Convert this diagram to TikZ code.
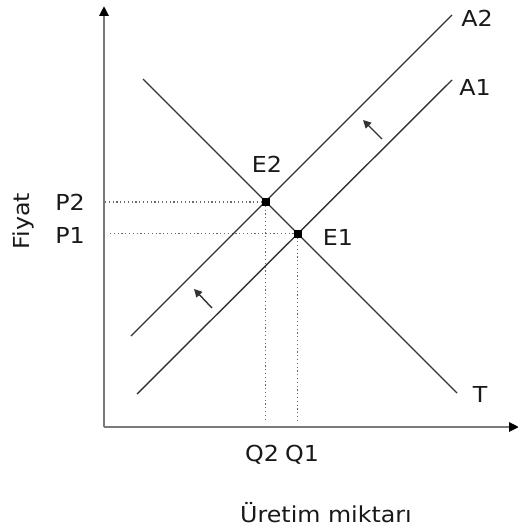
\documentclass[tikz,border=0pt]{standalone}
\usepackage{fontspec}
\setmainfont{DejaVu Sans}[FakeStretch=1.08]
\usetikzlibrary{arrows.meta}
\definecolor{axisgray}{HTML}{7A7A7A}
\definecolor{linegray}{HTML}{333333}
\definecolor{dotgray}{HTML}{6A6A6A}
\begin{document}
\begin{tikzpicture}[x=1pt,y=-1pt,
  axisline/.style={draw=axisgray,line width=2.6pt,-{Triangle[length=10pt,width=9pt,fill=black,color=black]}},
  curve/.style={draw=linegray,line width=1.4pt},
  guide/.style={draw=dotgray,line width=1.2pt,dash pattern=on 1.2pt off 2.6pt},
  lbl/.style={font=\fontsize{22}{26}\selectfont,text=black!90,inner sep=0pt},
  eqpt/.style={fill=black,minimum size=8pt,inner sep=0pt},
  shiftarrow/.style={draw=linegray,line width=1.4pt,-{Triangle[length=8pt,width=8pt]}}]
\useasboundingbox (0,0) rectangle (517,532);
% axes
\coordinate (O) at (104,427);
\coordinate (ytop) at (104,6);
\coordinate (xend) at (519,427);
\draw[axisline] (O) -- (ytop);
\draw[axisline] (O) -- (xend);
% curve endpoints
\coordinate (Ts) at (143,79);
\coordinate (Te) at (457,393);
\coordinate (A2s) at (131,336);
\coordinate (A2e) at (452,15);
\coordinate (A1s) at (137,394);
\coordinate (A1e) at (452,80);
% equilibrium points
\coordinate (E2) at (265.5,202);
\coordinate (E1) at (297.5,233.5);
\coordinate (P2a) at (105,202);
\coordinate (P1a) at (110,233.5);
\coordinate (Q2a) at (265.5,420);
\coordinate (Q1a) at (297.5,420);
% guides
\draw[guide] (P2a) -- (E2);
\draw[guide] (P1a) -- (E1);
\draw[guide] (E2) -- (Q2a);
\draw[guide] (E1) -- (Q1a);
% curves
\draw[curve] (Ts) -- (Te);
\draw[curve] (A2s) -- (A2e);
\draw[curve] (A1s) -- (A1e);
\node[eqpt] (e2dot) at (E2) {};
\node[eqpt] (e1dot) at (E1) {};
% shift arrows
\coordinate (s1a) at (382,139);
\coordinate (s1b) at (363,120);
\coordinate (s2a) at (212,308);
\coordinate (s2b) at (194,289);
\draw[shiftarrow] (s1a) -- (s1b);
\draw[shiftarrow] (s2a) -- (s2b);
% labels
\node[lbl] (lA2) at (477,18) {A2};
\node[lbl] (lA1) at (475,87) {A1};
\node[lbl] (lT) at (480,394) {T};
\node[lbl] (lE2) at (267,164) {E2};
\node[lbl] (lE1) at (338,237) {E1};
\node[lbl] (lP2) at (70,202) {P2};
\node[lbl] (lP1) at (70,235) {P1};
\node[lbl] (lQ2) at (262,455) {Q2};
\node[lbl] (lQ1) at (302,455) {Q1};
\node[lbl,rotate=90] (lFiyat) at (23,221) {Fiyat};
\node[lbl] (lUretim) at (326,513) {Üretim miktarı};
\end{tikzpicture}
\end{document}
